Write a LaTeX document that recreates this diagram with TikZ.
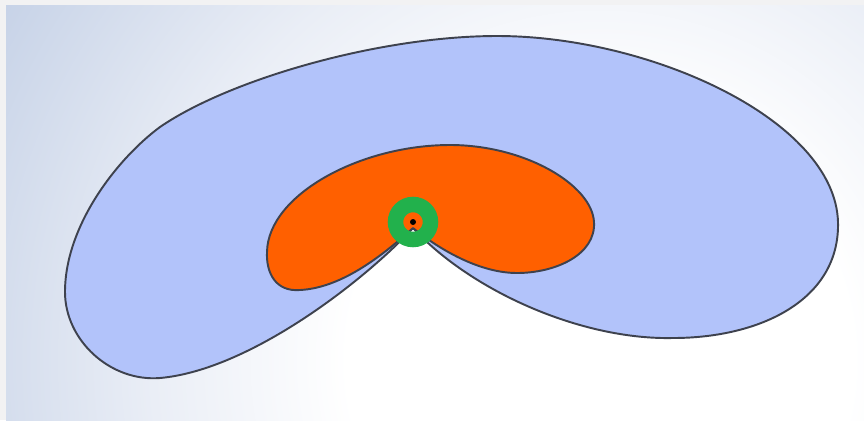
\documentclass[tikz,border=0pt]{standalone}
\usetikzlibrary{calc}

\definecolor{panelblue}{RGB}{198,210,231}
\definecolor{panelmid}{RGB}{234,238,246}
\definecolor{framegray}{RGB}{242,242,243}
\definecolor{lobeblue}{RGB}{178,195,250}
\definecolor{lobeorange}{RGB}{255,96,0}
\definecolor{ringgreen}{RGB}{34,177,76}
\definecolor{outline}{RGB}{62,66,78}
\pgfdeclareradialshading{panelshade}{\pgfpoint{0bp}{0bp}}{color(0bp)=(white); color(9bp)=(white); color(16bp)=(panelmid); color(25bp)=(panelblue); color(50bp)=(panelblue)}

\begin{document}
\begin{tikzpicture}[x=0.02cm, y=-0.02cm,
    lobe/.style={draw=outline, line width=1.1pt, line join=round}]

    \useasboundingbox (0, 0) rectangle (864, 420);
    \fill[framegray] (0, 0) rectangle (864, 420);

    \begin{scope}
        \clip (6, 5) rectangle (864, 420);
        \shade[shading=panelshade] (600, 360) circle (14cm);
    \end{scope}

    \coordinate (nucleus) at (413, 222);
    \coordinate (A) at (413, 228);

    \begin{scope}
        \draw[lobe, fill=lobeblue] (A)
            .. controls (365,280) and (250,370) .. (160,378)
            .. controls (110,382) and (65,340) .. (65,292)
            .. controls (65,225) and (118,158) .. (160,127)
            .. controls (230,79) and (380,36) .. (497,36)
            .. controls (650,36) and (835,120) .. (838,222)
            .. controls (840,300) and (760,338) .. (673,338)
            .. controls (580,340) and (470,290) .. (A) -- cycle;

        \draw[lobe, fill=lobeorange] (A)
            .. controls (380,258) and (340,288) .. (300,290)
            .. controls (275,292) and (266,272) .. (267,252)
            .. controls (268,195) and (360,145) .. (450,145)
            .. controls (525,145) and (592,185) .. (594,222)
            .. controls (596,255) and (555,273) .. (517,273)
            .. controls (480,273) and (440,250) .. (A) -- cycle;
    \end{scope}

    \draw[ringgreen, line width=0.31cm] (nucleus) circle (0.35cm);
    \fill[black] (nucleus) circle (0.06cm);

\end{tikzpicture}
\end{document}
